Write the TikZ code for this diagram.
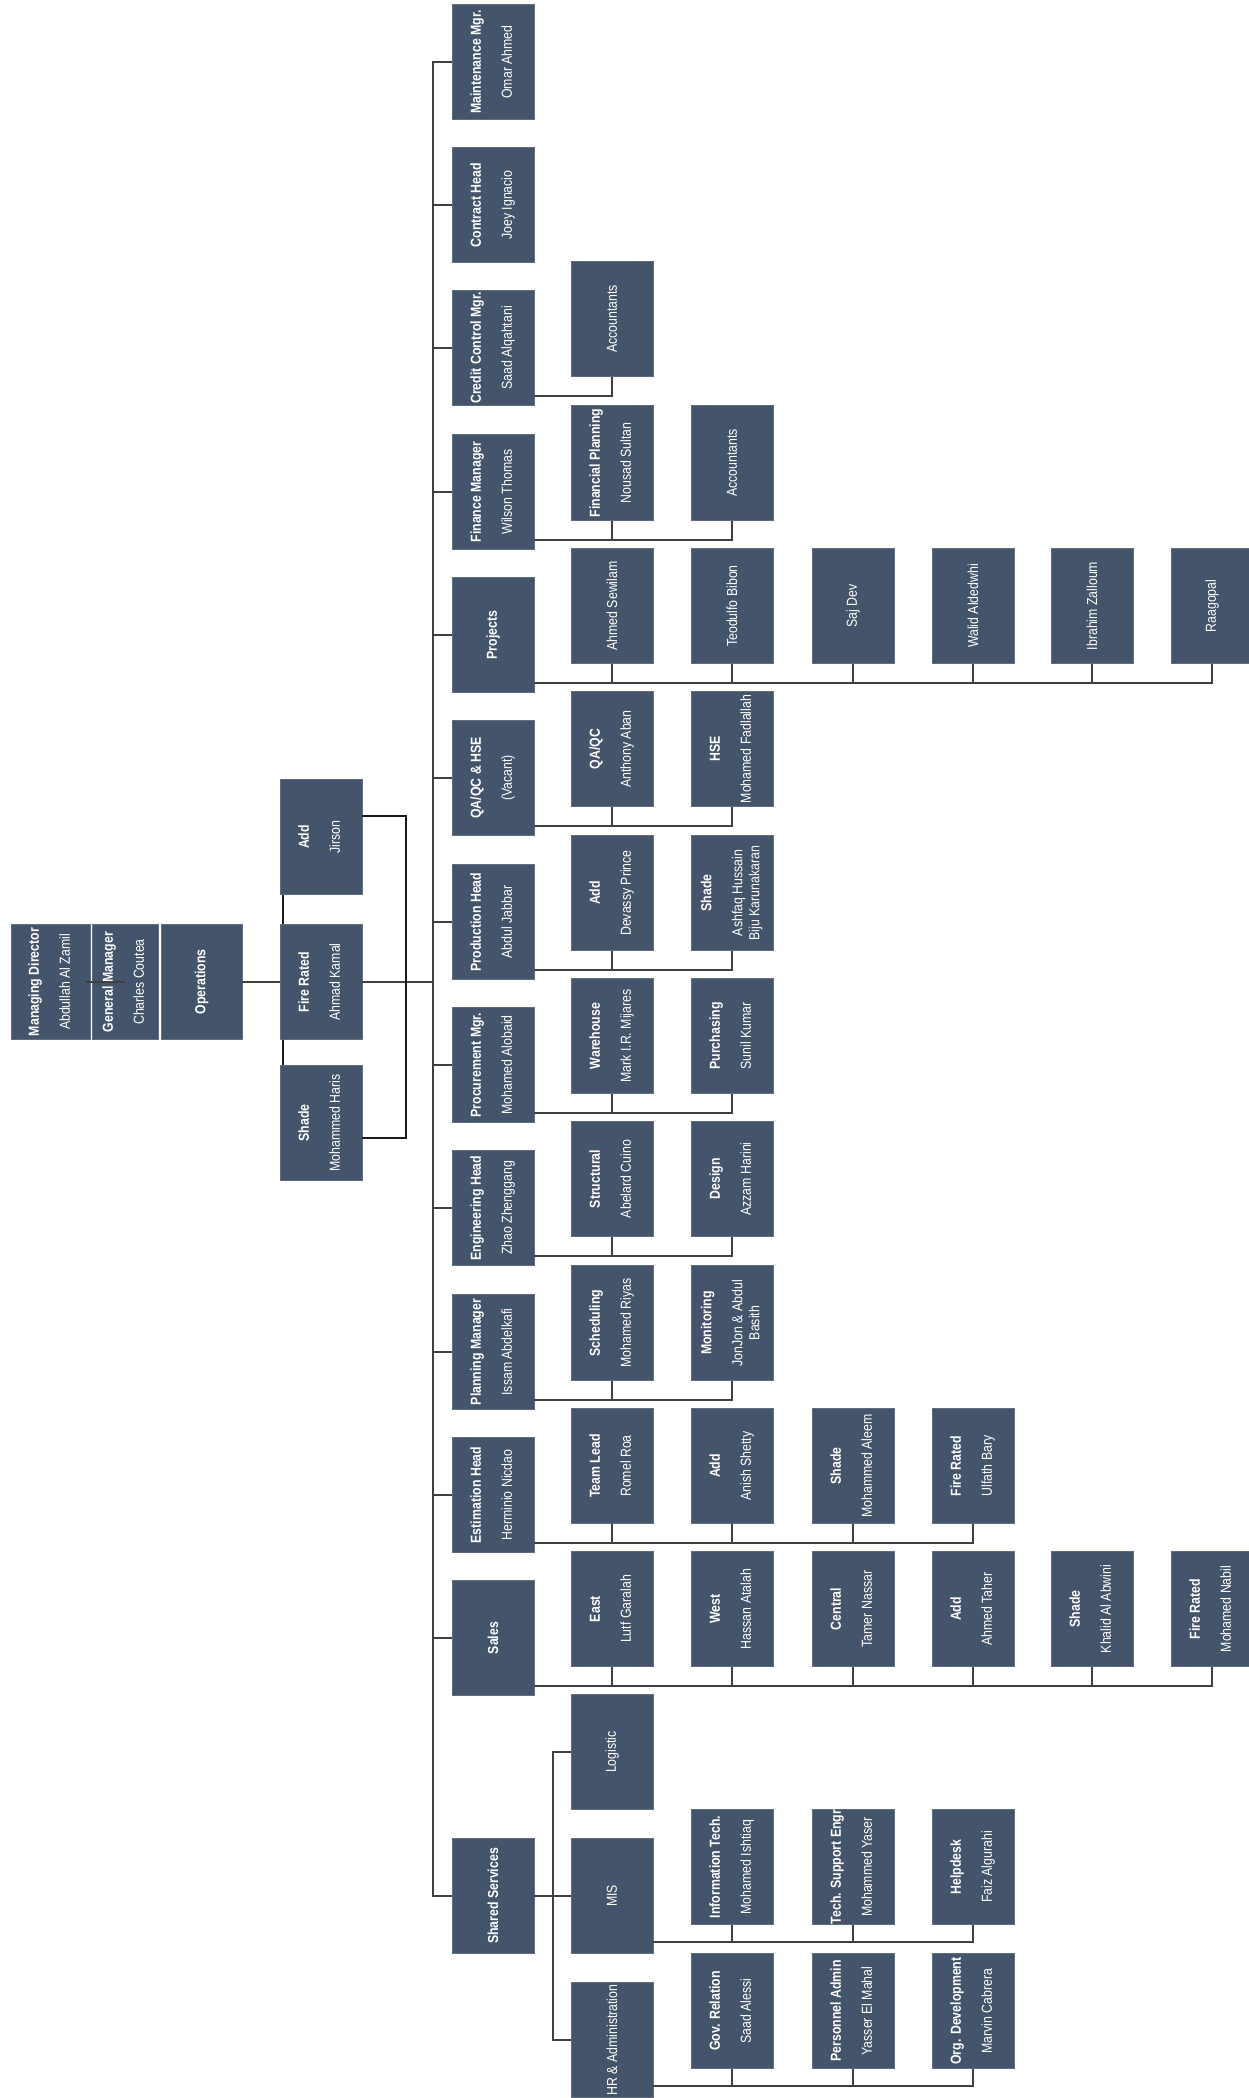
\documentclass[tikz,border=0pt]{standalone}
\usepackage{fontspec}
\setmainfont{Liberation Sans}[FakeStretch=0.85]
\usepackage{graphicx}
\definecolor{slate}{HTML}{44546A}
\newcommand{\post}[2]{\rotatebox{90}{\begin{tabular}{@{}c@{}}\textbf{#1}\\[14pt]#2\end{tabular}}}
\newcommand{\solo}[1]{\rotatebox{90}{#1}}

\begin{document}
\begin{tikzpicture}[
        x=1pt, y=-1pt,
        card/.style={
            rectangle,
            fill=slate,
            draw=slate!85!white,
            text=white,
            minimum width=82pt,
            minimum height=115pt,
            inner sep=0pt,
            font=\fontsize{14.5}{17}\selectfont
        },
        link/.style={draw=black!75, line width=1.7pt},
        tie/.style={draw=black!90, line width=2.4pt}
    ]
    \useasboundingbox (0,0) rectangle (1249,2098);

    % top of the chart
    \node[card, minimum width=79pt] (md) at (51,982)    {\post{Managing Director}{Abdullah Al Zamil}};
    \node[card, minimum width=66pt] (gm) at (125,982)   {\post{General Manager}{Charles Coutea}};
    \node[card, minimum width=81pt] (operations) at (201.5,982) {\solo{\textbf{Operations}}};
    \node[card] (addj) at (321,837)      {\post{Add}{Jirson}};
    \node[card] (firerated) at (321,982) {\post{Fire Rated}{Ahmad Kamal}};
    \node[card] (shadeh) at (321,1123)   {\post{Shade}{Mohammed Haris}};

    % departments
    \node[card] (maint) at (493,62)         {\post{Maintenance Mgr.}{Omar Ahmed}};
    \node[card] (contract) at (493,205)     {\post{Contract Head}{Joey Ignacio}};
    \node[card] (credit) at (493,348)       {\post{Credit Control Mgr.}{Saad Alqahtani}};
    \node[card] (finance) at (493,492)      {\post{Finance Manager}{Wilson Thomas}};
    \node[card] (projects) at (493,635)     {\solo{\textbf{Projects}}};
    \node[card] (qaqc) at (493,778)         {\post{QA/QC \& HSE}{(Vacant)}};
    \node[card] (production) at (493,922)   {\post{Production Head}{Abdul Jabbar}};
    \node[card] (procurement) at (493,1065) {\post{Procurement Mgr.}{Mohamed Alobaid}};
    \node[card] (engineering) at (493,1208) {\post{Engineering Head}{Zhao Zhenggang}};
    \node[card] (planning) at (493,1352)    {\post{Planning Manager}{Issam Abdelkafi}};
    \node[card] (estimation) at (493,1495)  {\post{Estimation Head}{Herminio Nicdao}};
    \node[card] (sales) at (493,1638)       {\solo{\textbf{Sales}}};
    \node[card] (shared) at (493,1896)      {\solo{\textbf{Shared Services}}};

    % teams
    \node[card] (acct1) at (612,319)    {\solo{Accountants}};
    \node[card] (finplan) at (612,463)  {\post{Financial Planning}{Nousad Sultan}};
    \node[card] (acct2) at (732,463)    {\solo{Accountants}};

    \node[card] (sewilam) at (612,606)  {\solo{Ahmed Sewilam}};
    \node[card] (bibon) at (732,606)    {\solo{Teodulfo Bibon}};
    \node[card] (sajdev) at (853,606)   {\solo{Saj Dev}};
    \node[card] (walid) at (973,606)    {\solo{Walid Aldedwhi}};
    \node[card] (zalloum) at (1092,606) {\solo{Ibrahim Zalloum}};
    \node[card] (raagopal) at (1212,606) {\solo{Raagopal}};

    \node[card] (qc) at (612,749)  {\post{QA/QC}{Anthony Aban}};
    \node[card] (hse) at (732,749) {\post{HSE}{Mohamed Fadlallah}};

    \node[card] (addprod) at (612,893)   {\post{Add}{Devassy Prince}};
    \node[card] (shadeprod) at (732,893) {\post{Shade}{Ashfaq Hussain\\Biju Karunakaran}};

    \node[card] (warehouse) at (612,1036)  {\post{Warehouse}{Mark I.R. Mijares}};
    \node[card] (purchasing) at (732,1036) {\post{Purchasing}{Sunil Kumar}};

    \node[card] (structural) at (612,1179) {\post{Structural}{Abelard Cuino}};
    \node[card] (design) at (732,1179)     {\post{Design}{Azzam Harini}};

    \node[card] (scheduling) at (612,1323) {\post{Scheduling}{Mohamed Riyas}};
    \node[card] (monitoring) at (732,1323) {\post{Monitoring}{JonJon \& Abdul\\Basith}};

    \node[card] (teamlead) at (612,1466) {\post{Team Lead}{Romel Roa}};
    \node[card] (addest) at (732,1466)   {\post{Add}{Anish Shetty}};
    \node[card] (shadeest) at (853,1466) {\post{Shade}{Mohammed Aleem}};
    \node[card] (fireest) at (973,1466)  {\post{Fire Rated}{Ulfath Bary}};

    \node[card] (east) at (612,1609)        {\post{East}{Lutf Garalah}};
    \node[card] (west) at (732,1609)        {\post{West}{Hassan Atalah}};
    \node[card] (central) at (853,1609)     {\post{Central}{Tamer Nassar}};
    \node[card] (addsales) at (973,1609)    {\post{Add}{Ahmed Taher}};
    \node[card] (shadesales) at (1092,1609) {\post{Shade}{Khalid Al Abwini}};
    \node[card] (firesales) at (1212,1609)  {\post{Fire Rated}{Mohamed Nabil}};

    \node[card] (logistic) at (612,1752) {\solo{Logistic}};
    \node[card] (mis) at (612,1896)      {\solo{MIS}};
    \node[card] (hradmin) at (612,2040)  {\solo{HR \& Administration}};

    \node[card] (infotech) at (732,1867)    {\post{Information Tech.}{Mohamed Ishtiaq}};
    \node[card] (techsupport) at (853,1867) {\post{Tech. Support Engr}{Mohammed Yaser}};
    \node[card] (helpdesk) at (973,1867)    {\post{Helpdesk}{Faiz Algurahi}};

    \node[card] (govrel) at (732,2011)    {\post{Gov. Relation}{Saad Alessi}};
    \node[card] (personnel) at (853,2011) {\post{Personnel Admin}{Yasser El Mahal}};
    \node[card] (orgdev) at (973,2011)    {\post{Org. Development}{Marvin Cabrera}};

    % top links
    \coordinate (hub) at (433,982);
    \coordinate (brtop) at (406,816);
    \coordinate (brbot) at (406,1138);
    \draw[link] ([xshift=-5pt]md.east) -- (gm.center);
    \draw[link] (operations.east) -- (firerated.west);
    \draw[link] (firerated.east) -- (hub);
    \draw[tie] (addj.east |- brtop) -- (brtop) -- (brbot) -- (shadeh.east |- brbot);
    \draw[tie] ([xshift=3pt]addj.south west) -- ([xshift=3pt]firerated.north west);
    \draw[tie] ([xshift=3pt]firerated.south west) -- ([xshift=3pt]shadeh.north west);

    % trunk
    \draw[link] (hub) |- (maint.west);
    \draw[link] (hub) |- (contract.west);
    \draw[link] (hub) |- (credit.west);
    \draw[link] (hub) |- (finance.west);
    \draw[link] (hub) |- (projects.west);
    \draw[link] (hub) |- (qaqc.west);
    \draw[link] (hub) |- (production.west);
    \draw[link] (hub) |- (procurement.west);
    \draw[link] (hub) |- (engineering.west);
    \draw[link] (hub) |- (planning.west);
    \draw[link] (hub) |- (estimation.west);
    \draw[link] (hub) |- (sales.west);
    \draw[link] (hub) |- (shared.west);

    % buses to teams
    \draw[link] ([yshift=9.5pt]credit.south east) -| (acct1.south);
    \draw[link] ([yshift=9.5pt]finance.south east) -| (finplan.south);
    \draw[link] ([yshift=9.5pt]finance.south east) -| (acct2.south);
    \draw[link] ([yshift=9.5pt]projects.south east) -| (sewilam.south);
    \draw[link] ([yshift=9.5pt]projects.south east) -| (bibon.south);
    \draw[link] ([yshift=9.5pt]projects.south east) -| (sajdev.south);
    \draw[link] ([yshift=9.5pt]projects.south east) -| (walid.south);
    \draw[link] ([yshift=9.5pt]projects.south east) -| (zalloum.south);
    \draw[link] ([yshift=9.5pt]projects.south east) -| (raagopal.south);
    \draw[link] ([yshift=9.5pt]qaqc.south east) -| (qc.south);
    \draw[link] ([yshift=9.5pt]qaqc.south east) -| (hse.south);
    \draw[link] ([yshift=9.5pt]production.south east) -| (addprod.south);
    \draw[link] ([yshift=9.5pt]production.south east) -| (shadeprod.south);
    \draw[link] ([yshift=9.5pt]procurement.south east) -| (warehouse.south);
    \draw[link] ([yshift=9.5pt]procurement.south east) -| (purchasing.south);
    \draw[link] ([yshift=9.5pt]engineering.south east) -| (structural.south);
    \draw[link] ([yshift=9.5pt]engineering.south east) -| (design.south);
    \draw[link] ([yshift=9.5pt]planning.south east) -| (scheduling.south);
    \draw[link] ([yshift=9.5pt]planning.south east) -| (monitoring.south);
    \draw[link] ([yshift=9.5pt]estimation.south east) -| (teamlead.south);
    \draw[link] ([yshift=9.5pt]estimation.south east) -| (addest.south);
    \draw[link] ([yshift=9.5pt]estimation.south east) -| (shadeest.south);
    \draw[link] ([yshift=9.5pt]estimation.south east) -| (fireest.south);
    \draw[link] ([yshift=9.5pt]sales.south east) -| (east.south);
    \draw[link] ([yshift=9.5pt]sales.south east) -| (west.south);
    \draw[link] ([yshift=9.5pt]sales.south east) -| (central.south);
    \draw[link] ([yshift=9.5pt]sales.south east) -| (addsales.south);
    \draw[link] ([yshift=9.5pt]sales.south east) -| (shadesales.south);
    \draw[link] ([yshift=9.5pt]sales.south east) -| (firesales.south);

    % shared services
    \coordinate (sshub) at (553,1896);
    \draw[link] (shared.east) -- (mis.west);
    \draw[link] (sshub) |- (logistic.west);
    \draw[link] (sshub) |- (hradmin.west);
    \draw[link] ([yshift=11.5pt]mis.south east) -| (infotech.south);
    \draw[link] ([yshift=11.5pt]mis.south east) -| (techsupport.south);
    \draw[link] ([yshift=11.5pt]mis.south east) -| (helpdesk.south);
    \draw[link] ([yshift=11.5pt]hradmin.south east) -| (govrel.south);
    \draw[link] ([yshift=11.5pt]hradmin.south east) -| (personnel.south);
    \draw[link] ([yshift=11.5pt]hradmin.south east) -| (orgdev.south);

\end{tikzpicture}
\end{document}
